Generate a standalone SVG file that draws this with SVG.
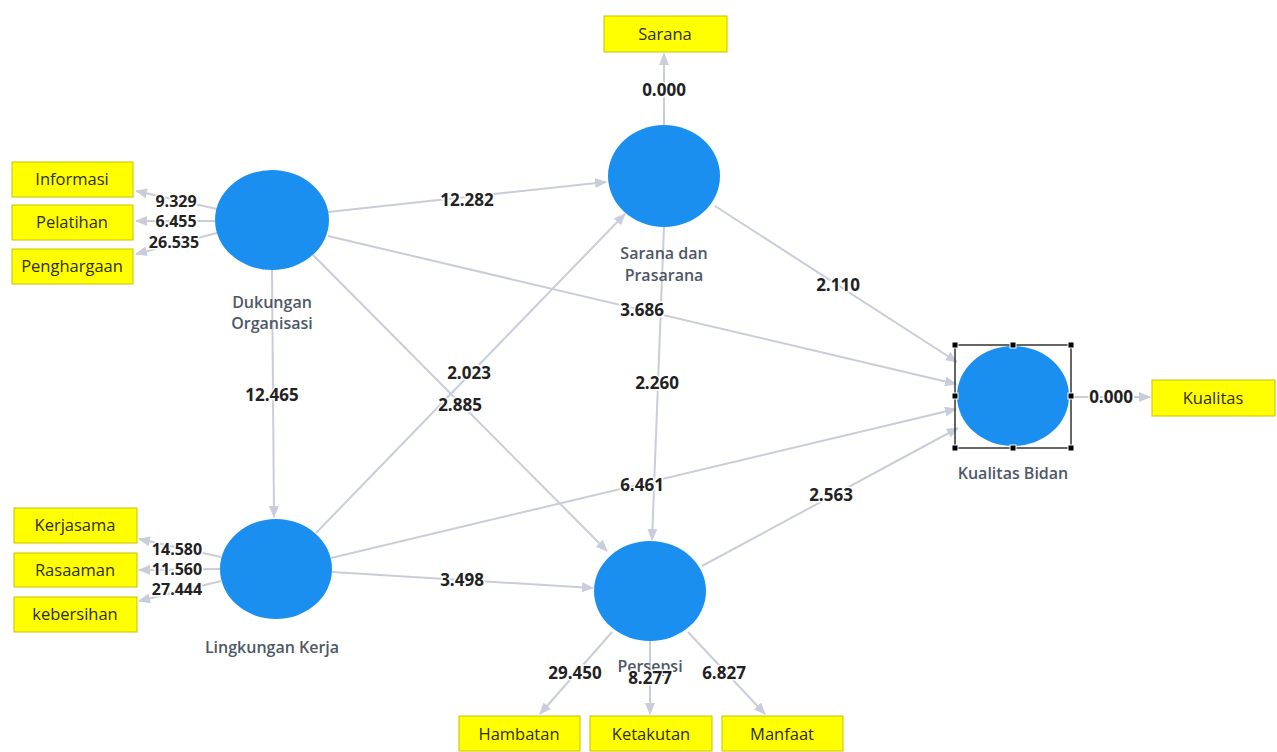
<svg xmlns="http://www.w3.org/2000/svg" width="1277" height="752" viewBox="0 0 1277 752">
<style>
.e{stroke:#c9cdd9;stroke-width:2;fill:none;marker-end:url(#ah)}
.lbl{font-family:"Open Sans","Liberation Sans",sans-serif;font-weight:700;font-size:17px;fill:#222;text-anchor:middle;stroke:#fff;stroke-width:3;paint-order:stroke}
.sm{font-size:16px}
.lv{fill:#1a8ff0}
.nl{font-family:"Open Sans","Liberation Sans",sans-serif;font-weight:600;font-size:16px;fill:#4e5866;text-anchor:middle}
.bx{fill:#ffff00;stroke:#c8c200;stroke-width:1}
.bt{font-family:"Open Sans","Liberation Sans",sans-serif;font-size:16.5px;fill:#2e2e10;text-anchor:middle}
.h{fill:#000;stroke:#fff;stroke-width:1}
</style>
<defs>
<marker id="ah" markerWidth="12" markerHeight="10" refX="11" refY="5" orient="auto" markerUnits="userSpaceOnUse">
<path d="M0,0 L12,5 L0,10 Z" fill="#c9cdd9"/>
</marker>
</defs>
<rect width="1277" height="752" fill="#fff"/>
<g id="connectors">
<line class="e" x1="328" y1="212" x2="606" y2="182"/>
<line class="e" x1="328" y1="236" x2="956" y2="384"/>
<line class="e" x1="272" y1="270" x2="274" y2="517"/>
<line class="e" x1="313" y1="255" x2="607" y2="551"/>
<line class="e" x1="316" y1="533" x2="625" y2="214"/>
<line class="e" x1="331" y1="558" x2="956" y2="409"/>
<line class="e" x1="332" y1="572" x2="593" y2="588"/>
<line class="e" x1="715" y1="206" x2="957" y2="362"/>
<line class="e" x1="664" y1="227" x2="652" y2="540"/>
<line class="e" x1="702" y1="566" x2="958" y2="428"/>
<line class="e" x1="664" y1="125" x2="664" y2="54"/>
<line class="e" x1="1069" y1="397" x2="1150" y2="397"/>
<line class="e" x1="217" y1="209" x2="136" y2="191"/>
<line class="e" x1="215" y1="221" x2="136" y2="221"/>
<line class="e" x1="217" y1="233" x2="136" y2="254"/>
<line class="e" x1="221" y1="557" x2="139" y2="539"/>
<line class="e" x1="220" y1="569" x2="139" y2="570"/>
<line class="e" x1="221" y1="581" x2="139" y2="601"/>
<line class="e" x1="612" y1="632" x2="540" y2="714"/>
<line class="e" x1="650" y1="641" x2="650" y2="714"/>
<line class="e" x1="688" y1="632" x2="765" y2="714"/>
<g>
<text class="lbl sm" x="176" y="207">9.329</text>
<text class="lbl sm" x="176" y="227">6.455</text>
<text class="lbl sm" x="174" y="248">26.535</text>
<text class="lbl sm" x="177" y="555">14.580</text>
<text class="lbl sm" x="177" y="575">11.560</text>
<text class="lbl sm" x="177" y="595">27.444</text>
<text class="lbl" x="467" y="206">12.282</text>
<text class="lbl" x="642" y="316">3.686</text>
<text class="lbl" x="272" y="401">12.465</text>
<text class="lbl" x="469" y="379">2.023</text>
<text class="lbl" x="460" y="411">2.885</text>
<text class="lbl" x="657" y="389">2.260</text>
<text class="lbl" x="838" y="291">2.110</text>
<text class="lbl" x="642" y="491">6.461</text>
<text class="lbl" x="831" y="501">2.563</text>
<text class="lbl" x="462" y="586">3.498</text>
<text class="lbl" x="664" y="96">0.000</text>
<text class="lbl" x="1111" y="403">0.000</text>
<text class="lbl" x="575" y="679">29.450</text>
<text class="lbl" x="724" y="679">6.827</text>
</g>
</g>
<g id="dukungan">
<ellipse class="lv" cx="272" cy="220" rx="57" ry="50"/>
<text class="nl" x="272" y="308">Dukungan</text>
<text class="nl" x="272" y="329">Organisasi</text>
</g>
<g id="sarana-prasarana">
<ellipse class="lv" cx="664" cy="176" rx="56" ry="51"/>
<text class="nl" x="664" y="259">Sarana dan</text>
<text class="nl" x="664" y="281">Prasarana</text>
</g>
<g id="lingkungan">
<ellipse class="lv" cx="276" cy="569" rx="56" ry="50"/>
<text class="nl" x="272" y="653">Lingkungan Kerja</text>
</g>
<g id="persepsi">
<ellipse class="lv" cx="650" cy="591" rx="56" ry="50"/>
<text class="nl" x="650" y="672">Persepsi</text>
<text class="lbl" x="650" y="684">8.277</text>
</g>
<g id="kualitas-bidan">
<ellipse class="lv" cx="1013" cy="396" rx="56" ry="50"/>
<rect x="955" y="345" width="116" height="103" fill="none" stroke="#333" stroke-width="1.5"/>
<rect class="h" x="952" y="342" width="6" height="6"/>
<rect class="h" x="1010" y="342" width="6" height="6"/>
<rect class="h" x="1068" y="342" width="6" height="6"/>
<rect class="h" x="952" y="393" width="6" height="6"/>
<rect class="h" x="1068" y="393" width="6" height="6"/>
<rect class="h" x="952" y="445" width="6" height="6"/>
<rect class="h" x="1010" y="445" width="6" height="6"/>
<rect class="h" x="1068" y="445" width="6" height="6"/>
<text class="nl" x="1013" y="479">Kualitas Bidan</text>
</g>
<g id="informasi"><rect class="bx" x="12" y="162" width="121" height="35"/><text class="bt" x="72" y="185">Informasi</text></g>
<g id="pelatihan"><rect class="bx" x="12" y="205" width="121" height="35"/><text class="bt" x="72" y="228">Pelatihan</text></g>
<g id="penghargaan"><rect class="bx" x="12" y="249" width="121" height="35"/><text class="bt" x="72" y="272">Penghargaan</text></g>
<g id="kerjasama"><rect class="bx" x="14" y="508" width="123" height="35"/><text class="bt" x="75" y="531">Kerjasama</text></g>
<g id="rasaaman"><rect class="bx" x="14" y="553" width="123" height="34"/><text class="bt" x="75" y="576">Rasaaman</text></g>
<g id="kebersihan"><rect class="bx" x="14" y="597" width="123" height="35"/><text class="bt" x="75" y="620">kebersihan</text></g>
<g id="sarana"><rect class="bx" x="604" y="16" width="123" height="36"/><text class="bt" x="665" y="40">Sarana</text></g>
<g id="kualitas"><rect class="bx" x="1152" y="380" width="123" height="36"/><text class="bt" x="1213" y="404">Kualitas</text></g>
<g id="hambatan"><rect class="bx" x="459" y="716" width="121" height="35"/><text class="bt" x="519" y="740">Hambatan</text></g>
<g id="ketakutan"><rect class="bx" x="590" y="716" width="122" height="35"/><text class="bt" x="651" y="740">Ketakutan</text></g>
<g id="manfaat"><rect class="bx" x="722" y="716" width="121" height="35"/><text class="bt" x="782" y="740">Manfaat</text></g>
</svg>
